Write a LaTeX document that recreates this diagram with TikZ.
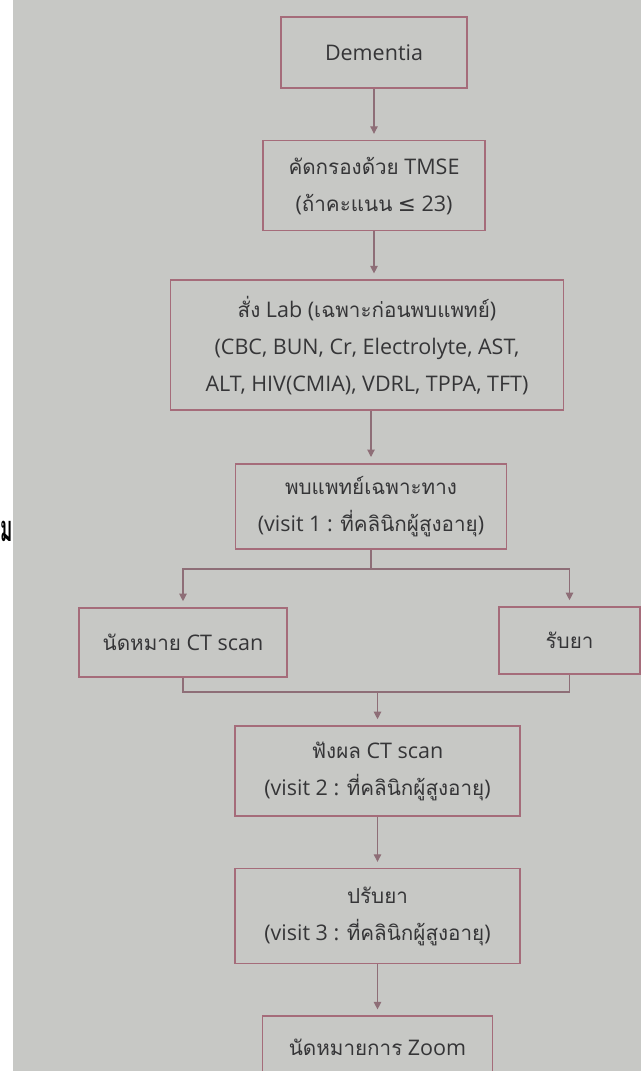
\documentclass[tikz,border=0pt]{standalone}
\usepackage{fontspec}
\setmainfont{Open Sans}
\newfontfamily\thai[Script=Thai,Scale=0.96]{Loma}
\newfontfamily\symfont{DejaVu Sans}
\usepackage{tikz}
\usetikzlibrary{arrows.meta,positioning}
\definecolor{fcborder}{HTML}{A56C7A}
\definecolor{fcarrow}{HTML}{8E6E77}
\definecolor{fcpaper}{HTML}{C7C8C5}
\definecolor{fctext}{HTML}{353537}
\newcommand{\thaitext}[1]{{\thai #1}}

\begin{document}
\begin{tikzpicture}[
  x=1pt, y=-1pt,
  flowbox/.style={rectangle, draw=fcborder, line width=1.6pt, fill=fcpaper,
                  align=center, inner sep=0pt, text=fctext,
                  font=\fontsize{21.5}{37}\selectfont},
  arr/.style={-{Triangle[width=7.5pt,length=7.5pt]}, line width=1.1pt, draw=fcarrow,
              shorten >=6pt},
  link/.style={line width=1.1pt, draw=fcarrow},
  node distance=51pt
]
  \useasboundingbox (0,0) rectangle (641,1071);
  \clip (0,0) rectangle (641,1071);
  \fill[fcpaper] (0,0) rectangle (641,1071);
  \fill[white] (0,0) rectangle (13,1071);
  \node[font=\fontsize{28}{28}\selectfont\thai\bfseries, text=black, inner sep=0pt,
        anchor=west, transform shape, xscale=0.7, yscale=1.35] (stray) at (0.5,531) {ม};

  \node[flowbox, minimum width=186pt, minimum height=71pt] (dementia) at (374,52.5) {Dementia};
  \node[flowbox, minimum width=222pt, minimum height=90pt, below=of dementia] (tmse)
    {\thaitext{คัดกรองด้วย} TMSE\\(\thaitext{ถ้าคะแนน} {\symfont ≤} 23)};
  \node[flowbox, minimum width=393pt, minimum height=130pt, below=48pt of tmse, xshift=-7pt] (lab)
    {\thaitext{สั่ง} Lab (\thaitext{เฉพาะก่อนพบแพทย์})\\(CBC, BUN, Cr, Electrolyte, AST,\\ALT, HIV(CMIA), VDRL, TPPA, TFT)};
  \node[flowbox, minimum width=271pt, minimum height=85pt, below=52pt of lab, xshift=4pt] (visit1)
    {\thaitext{พบแพทย์เฉพาะทาง}\\(visit 1 : \thaitext{ที่คลินิกผู้สูงอายุ})};
  \node[flowbox, minimum width=208pt, minimum height=69pt] (ctscan) at (183,642.5)
    {\thaitext{นัดหมาย} CT scan};
  \node[flowbox, minimum width=141pt, minimum height=67pt] (meds) at (569.5,640.5)
    {\thaitext{รับยา}};
  \node[flowbox, minimum width=285pt, minimum height=90pt] (result) at (377.5,771)
    {\thaitext{ฟังผล} CT scan\\(visit 2 : \thaitext{ที่คลินิกผู้สูงอายุ})};
  \node[flowbox, minimum width=285pt, minimum height=95pt, below=of result] (adjust)
    {\thaitext{ปรับยา}\\(visit 3 : \thaitext{ที่คลินิกผู้สูงอายุ})};
  \node[flowbox, minimum width=230pt, minimum height=62pt, below=of adjust] (zoom)
    {\thaitext{นัดหมายการ} Zoom};

  % fork and join points
  \coordinate (fork) at (visit1.south |- 0,569);
  \coordinate (join) at (result.north |- 0,692);

  \draw[arr] (dementia) -- (dementia |- tmse.north);
  \draw[arr] (tmse) -- (tmse |- lab.north);
  \draw[arr] (visit1 |- lab.south) -- (visit1);
  \draw[link] (visit1) -- (fork);
  \draw[arr] (fork) -| (ctscan);
  \draw[arr] (fork) -| (meds);
  \draw[link] (ctscan) |- (join) -| (meds);
  \draw[arr] (join) -- (result);
  \draw[arr] (result) -- (adjust);
  \draw[arr] (adjust) -- (zoom);
\end{tikzpicture}
\end{document}
